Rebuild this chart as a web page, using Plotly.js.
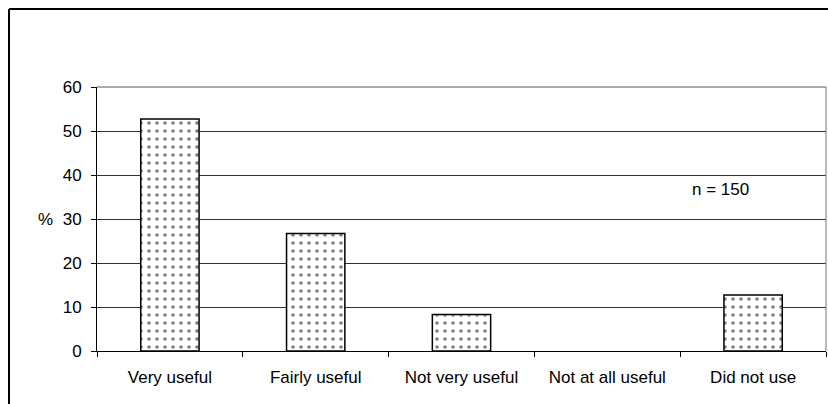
<!DOCTYPE html>
<html><head><meta charset="utf-8">
<script src="https://cdn.plot.ly/plotly-3.0.1.min.js"></script>
<style>html,body{margin:0;padding:0;background:#fff;}#chart{width:828px;height:404px;}</style>
</head><body><div id="chart"></div>
<script>
const categories = ["Very useful", "Fairly useful", "Not very useful", "Not at all useful", "Did not use"];
const percentages = [52.7, 26.7, 8.3, 0, 12.7];
const yTicks = [0, 10, 20, 30, 40, 50, 60];
const noteText = "n = 150";
const yLabel = "%";

const font = {family: "Liberation Sans, Arial, sans-serif", size: 17, color: "#000"};

const trace = {
  type: "bar",
  x: categories,
  y: percentages,
  width: 0.4,
  marker: {
    color: "#fff",
    line: {color: "#000", width: percentages.map(v => v > 0 ? 1.5 : 0)},
    pattern: {shape: ".", fgcolor: "#000", bgcolor: "#fff", size: 8, solidity: 0.16, fillmode: "overlay"}
  },
  hoverinfo: "none"
};

const layout = {
  width: 828, height: 404,
  margin: {l: 97, r: 2, t: 87, b: 53},
  paper_bgcolor: "#fff", plot_bgcolor: "#fff",
  font: font,
  showlegend: false,
  xaxis: {
    type: "category",
    showgrid: false,
    showline: true, linecolor: "#000", linewidth: 1,
    ticks: "outside", ticklen: 5, tickcolor: "#000", tickson: "boundaries",
    ticklabelstandoff: 11,
    tickfont: font,
    fixedrange: true
  },
  yaxis: {
    range: [0, 60],
    tickvals: yTicks,
    showgrid: true, gridcolor: "#333", gridwidth: 1,
    showline: true, linecolor: "#000", linewidth: 1,
    ticks: "outside", ticklen: 5, tickcolor: "#000",
    ticklabelstandoff: 6,
    tickfont: font,
    zeroline: false,
    fixedrange: true
  },
  annotations: [
    {text: noteText, xref: "paper", yref: "paper", x: 0.855, y: 0.612, xanchor: "center", yanchor: "middle", showarrow: false, font: font},
    {text: yLabel, xref: "paper", yref: "paper", x: -0.071, y: 0.5, xanchor: "center", yanchor: "middle", showarrow: false, font: font}
  ],
  shapes: [
    {type: "line", xref: "paper", yref: "paper", x0: 0, x1: 1, y0: 1, y1: 1, line: {color: "#555", width: 1}},
    {type: "line", xref: "paper", yref: "paper", x0: 1, x1: 1, y0: 0, y1: 1, line: {color: "#777", width: 1}},
    {type: "line", xref: "paper", yref: "paper", x0: -0.1207, x1: 1.01, y0: 1.2955, y1: 1.2955, line: {color: "#000", width: 2}},
    {type: "line", xref: "paper", yref: "paper", x0: -0.1207, x1: -0.1207, y0: -0.25, y1: 1.2955, line: {color: "#000", width: 2}}
  ]
};

Plotly.newPlot("chart", [trace], layout, {displayModeBar: false, staticPlot: true});
</script>
</body></html>
